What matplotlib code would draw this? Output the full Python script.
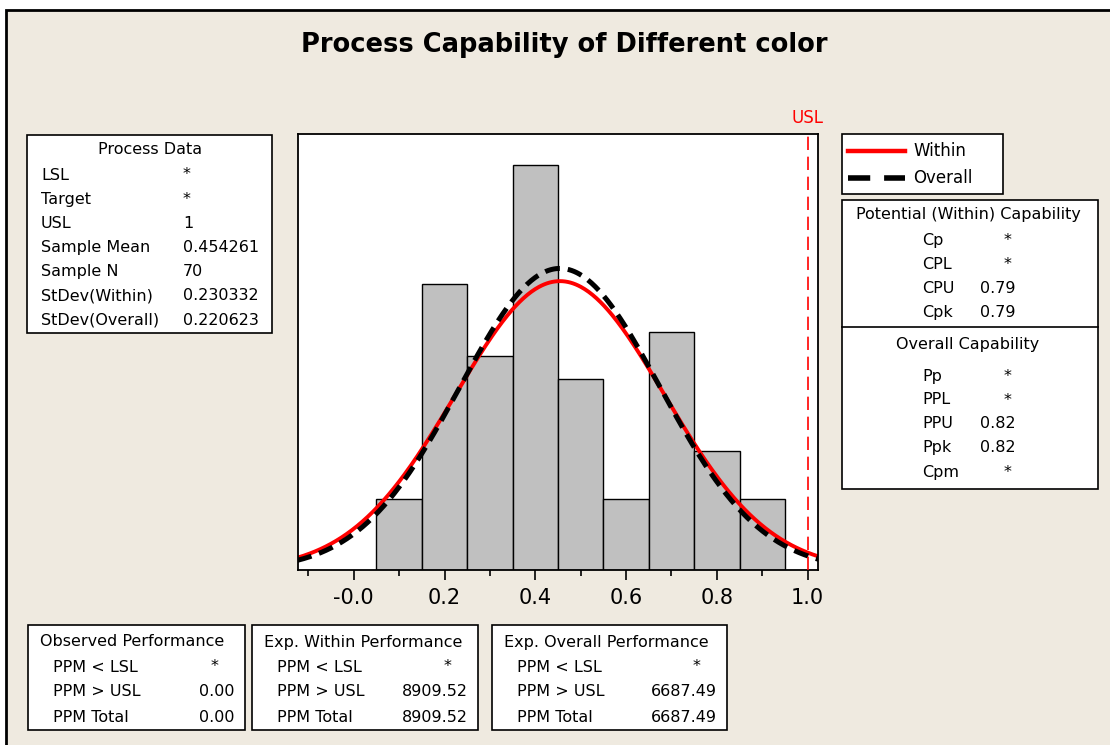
import numpy as np
import matplotlib.pyplot as plt
from matplotlib.patches import Rectangle
from matplotlib.lines import Line2D

# histogram data (bins of width 0.1)
bin_centers = [0.1, 0.2, 0.3, 0.4, 0.5, 0.6, 0.7, 0.8, 0.9]
counts = [3, 12, 9, 17, 8, 3, 10, 5, 3]
usl = 1.0
mean = 0.454261
n = 70
sd_within = 0.230332
sd_overall = 0.220623

process_labels = ['LSL', 'Target', 'USL', 'Sample Mean', 'Sample N', 'StDev(Within)', 'StDev(Overall)']
process_values = ['*', '*', '1', '0.454261', '70', '0.230332', '0.220623']
within_labels = ['Cp', 'CPL', 'CPU', 'Cpk']
within_values = ['*', '*', '0.79', '0.79']
overall_labels = ['Pp', 'PPL', 'PPU', 'Ppk', 'Cpm']
overall_values = ['*', '*', '0.82', '0.82', '*']
perf_titles = ['Observed Performance', 'Exp. Within Performance', 'Exp. Overall Performance']
perf_labels = ['PPM < LSL', 'PPM > USL', 'PPM Total']
perf_values = [['*', '0.00', '0.00'], ['*', '8909.52', '8909.52'], ['*', '6687.49', '6687.49']]

W, H = 1110, 745
BG = '#EFEAE0'
fig = plt.figure(figsize=(W / 100, H / 100), dpi=100)
fig.patch.set_facecolor('white')


def fx(x):
    return x / W


def fy(y):
    return 1 - y / H


def box(x0, y0, x1, y1, fc='white', lw=1.2):
    fig.patches.append(Rectangle((fx(x0), fy(y1)), fx(x1 - x0), (y1 - y0) / H,
                                 transform=fig.transFigure, facecolor=fc,
                                 edgecolor='black', lw=lw, zorder=1))


def txt(x, y, s, ha='left', size=11.5, **kw):
    fig.text(fx(x), fy(y), s, ha=ha, va='center', fontsize=size, **kw)


# outer frame
box(6, 10, W + 20, H + 20, fc=BG, lw=2)

txt(564, 45, 'Process Capability of Different color', ha='center', size=18.5, fontweight='bold')

# main histogram
ax = fig.add_axes([fx(298), fy(570), fx(818 - 298), (570 - 134) / H])
ax.set_zorder(5)
ax.bar(bin_centers, counts, width=0.1, color='#C0C0C0', edgecolor='black', lw=1, zorder=1)
xs = np.linspace(-0.125, 1.025, 400)
pdf_w = np.exp(-0.5 * ((xs - mean) / sd_within) ** 2) / (sd_within * np.sqrt(2 * np.pi))
pdf_o = np.exp(-0.5 * ((xs - mean) / sd_overall) ** 2) / (sd_overall * np.sqrt(2 * np.pi))
ax.plot(xs, pdf_w * n * 0.1, color='red', lw=2.8, zorder=2)
ax.plot(xs, pdf_o * n * 0.1, color='black', lw=3.6, ls=(0, (3, 1.6)), zorder=3)
ax.axvline(usl, color='red', lw=1.2, ls=(0, (8, 4)), zorder=4)
ax.text(usl, 1.015, 'USL', color='red', fontsize=12, ha='center', va='bottom',
        transform=ax.get_xaxis_transform())
ax.set_xlim(-0.123, 1.023)
ax.set_ylim(0, 18.3)
ax.set_yticks([])
ax.set_xticks([0.0, 0.2, 0.4, 0.6, 0.8, 1.0])
ax.set_xticklabels(['-0.0', '0.2', '0.4', '0.6', '0.8', '1.0'])
ax.set_xticks(np.arange(-0.1, 1.01, 0.1), minor=True)
ax.tick_params(axis='x', which='major', length=7, width=1.2, labelsize=15, pad=6)
ax.tick_params(axis='x', which='minor', length=4, width=1.2)
for sp in ax.spines.values():
    sp.set_linewidth(1.3)

# process data box
box(27, 135, 272, 333)
txt(150, 150, 'Process Data', ha='center')
for i, (lab, val) in enumerate(zip(process_labels, process_values)):
    y = 175 + i * 24.2
    txt(41, y, lab)
    txt(183, y, val)

# legend box
box(842, 134, 1003, 194)
fig.lines.append(Line2D([fx(848), fx(905)], [fy(151), fy(151)], transform=fig.transFigure,
                        color='red', lw=3.2))
fig.lines.append(Line2D([fx(848), fx(905)], [fy(178), fy(178)], transform=fig.transFigure,
                        color='black', lw=4, ls=(0, (4, 2.5))))
txt(913, 151, 'Within', size=12)
txt(913, 178, 'Overall', size=12)

# capability box
box(842, 200, 1098, 489)
fig.lines.append(Line2D([fx(842), fx(1098)], [fy(327), fy(327)], transform=fig.transFigure,
                        color='black', lw=1.2))
txt(968, 215, 'Potential (Within) Capability', ha='center')
for i, (lab, val) in enumerate(zip(within_labels, within_values)):
    y = 240 + i * 24.3
    txt(922, y, lab)
    if val == '*':
        txt(1008, y, val, ha='center')
    else:
        txt(980, y, val)
txt(968, 344, 'Overall Capability', ha='center')
for i, (lab, val) in enumerate(zip(overall_labels, overall_values)):
    y = 376 + i * 24
    txt(922, y, lab)
    if val == '*':
        txt(1008, y, val, ha='center')
    else:
        txt(980, y, val)

# performance boxes
perf_boxes = [(28, 245), (252, 478), (492, 727)]
for (x0, x1), title, vals in zip(perf_boxes, perf_titles, perf_values):
    box(x0, 625, x1, 730)
    txt(x0 + 12, 642, title)
    for j, (lab, val) in enumerate(zip(perf_labels, vals)):
        y = 667 + j * 25
        txt(x0 + 25, y, lab)
        if val == '*':
            txt(x1 - 30, y, val, ha='center')
        else:
            txt(x1 - 10, y, val, ha='right')

fig.savefig('out.png', dpi=100, facecolor=fig.get_facecolor())
